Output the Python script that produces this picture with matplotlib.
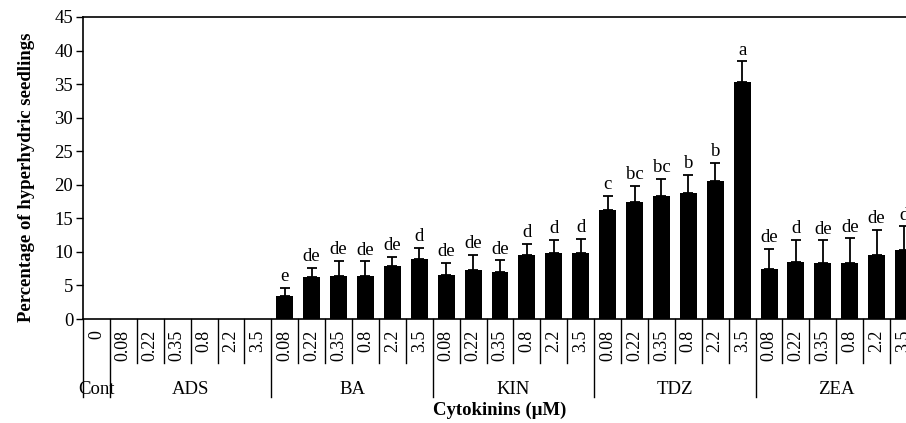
import matplotlib
matplotlib.use('Agg')

import matplotlib.pyplot as plt
import numpy as np

# groups and concentrations (uM)
groups = ['Cont', 'ADS', 'BA', 'KIN', 'TDZ', 'ZEA']
concs = {
  'Cont': ['0'],
  'ADS': ['0.08', '0.22', '0.35', '0.8', '2.2', '3.5'],
  'BA': ['0.08', '0.22', '0.35', '0.8', '2.2', '3.5'],
  'KIN': ['0.08', '0.22', '0.35', '0.8', '2.2', '3.5'],
  'TDZ': ['0.08', '0.22', '0.35', '0.8', '2.2', '3.5'],
  'ZEA': ['0.08', '0.22', '0.35', '0.8', '2.2', '3.5'],
}

# percentage of hyperhydric seedlings
cont_vals = [0]
ads_vals = [0, 0, 0, 0, 0, 0]
ba_vals = [3.4, 6.3, 6.45, 6.45, 7.9, 8.9]
kin_vals = [6.6, 7.3, 7.05, 9.5, 9.8, 9.8]
tdz_vals = [16.2, 17.4, 18.4, 18.8, 20.5, 35.3]
zea_vals = [7.5, 8.55, 8.35, 8.4, 9.6, 10.3]

# standard errors
cont_err = [0]
ads_err = [0, 0, 0, 0, 0, 0]
ba_err = [1.2, 1.3, 2.25, 2.15, 1.4, 1.7]
kin_err = [1.8, 2.2, 1.7, 1.7, 2.0, 2.1]
tdz_err = [2.2, 2.4, 2.5, 2.7, 2.8, 3.1]
zea_err = [3.0, 3.25, 3.35, 3.6, 3.7, 3.5]

# significance letters
cont_let = ['']
ads_let = ['', '', '', '', '', '']
ba_let = ['e', 'de', 'de', 'de', 'de', 'd']
kin_let = ['de', 'de', 'de', 'd', 'd', 'd']
tdz_let = ['c', 'bc', 'bc', 'b', 'b', 'a']
zea_let = ['de', 'd', 'de', 'de', 'de', 'd']

values = cont_vals + ads_vals + ba_vals + kin_vals + tdz_vals + zea_vals
errors = cont_err + ads_err + ba_err + kin_err + tdz_err + zea_err
letters = cont_let + ads_let + ba_let + kin_let + tdz_let + zea_let
tick_labels = [c for g in groups for c in concs[g]]

plt.rcParams['font.family'] = ['Liberation Serif', 'DejaVu Serif']

fig = plt.figure(figsize=(9.06, 4.23), dpi=100)
# plot area runs a little past the right edge, as in the original (last bar clipped)
ax = fig.add_axes([83 / 906, 104 / 423, 834 / 906, 302 / 423])

x = np.arange(len(values))
ax.bar(x, values, width=0.63, color='black', zorder=2)
yerr = np.vstack([np.zeros(len(errors)), errors])
has_err = np.array(errors) > 0
ax.errorbar(x[has_err], np.array(values)[has_err], yerr=yerr[:, has_err],
            fmt='none', ecolor='black', elinewidth=1.3, capsize=3.5, capthick=1.3, zorder=3)

for xi, v, e, lab in zip(x, values, errors, letters):
  if lab:
    ax.annotate(lab, xy=(xi, v + e), xytext=(0, 2), textcoords='offset points',
                ha='center', va='bottom', fontsize=13.5)

ax.set_ylim(0, 45)
ax.set_yticks(np.arange(0, 46, 5))
ax.tick_params(axis='y', direction='out', length=5, width=1, labelsize=13.5, pad=2)
ax.tick_params(axis='x', bottom=False, labelbottom=False)
for s in ['left', 'top', 'bottom']:
  ax.spines[s].set_linewidth(1.2)
ax.spines['right'].set_visible(False)

ax.set_ylabel('Percentage of hyperhydric seedlings', fontsize=13.5, fontweight='bold')
ax.yaxis.set_label_coords(-0.058, 0.47)

# category axis: tick labels, separators, group names
ax.autoscale(False)
tr = ax.get_xaxis_transform()
for xi, lab in zip(x, tick_labels):
  ax.text(xi, -0.036, lab, transform=tr, rotation=90, ha='center', va='top', fontsize=13)

start = 0
for g in groups:
  n = len(concs[g])
  ax.plot([start - 0.5, start - 0.5], [0, -0.258], transform=tr, color='black', lw=1, clip_on=False)
  for k in range(1, n):
    ax.plot([start + k - 0.5] * 2, [0, -0.146], transform=tr, color='black', lw=1, clip_on=False)
  ax.text(start + (n - 1) / 2, -0.232, g, transform=tr, ha='center', va='center', fontsize=13.5)
  start += n
ax.plot([start - 0.5, start - 0.5], [0, -0.258], transform=tr, color='black', lw=1, clip_on=False)

ax.set_xlim(-0.5, len(values) - 0.5)

fig.text(500 / 906, 1 - 410 / 423, 'Cytokinins (\u00b5M)', ha='center', va='center',
         fontsize=13.5, fontweight='bold')

fig.savefig('out.png', dpi=100)
